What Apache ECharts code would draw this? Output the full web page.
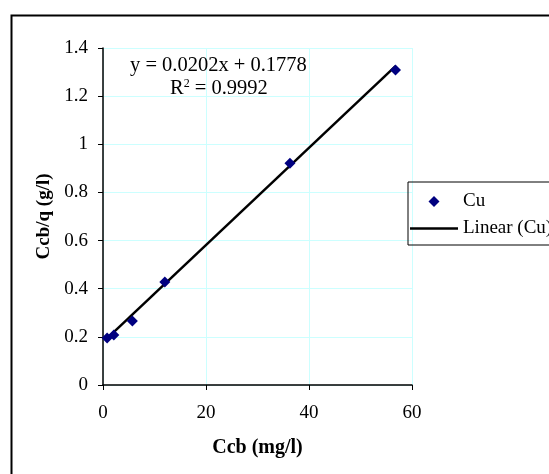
<!DOCTYPE html>
<html>
<head>
<meta charset="utf-8">
<script src="https://cdn.jsdelivr.net/npm/echarts@6/dist/echarts.min.js"></script>
<style>html,body{margin:0;padding:0;background:#fff}#c{width:549px;height:474px}</style>
</head>
<body>
<div id="c"></div>
<script>
const ccb = [0.8, 2.1, 5.7, 12.0, 36.3, 56.8];
const ccbq = [0.195, 0.208, 0.266, 0.428, 0.921, 1.309];
const trendX = [0.8, 56.8];
const trendY = [0.194, 1.325];
const xTicks = [0, 20, 40, 60];
const yTicks = [0, 0.2, 0.4, 0.6, 0.8, 1, 1.2, 1.4];

const font = '"Liberation Serif", "Times New Roman", serif';
const chart = echarts.init(document.getElementById('c'));
chart.setOption({
  animation: false,
  backgroundColor: '#fff',
  textStyle: { fontFamily: font },
  grid: { left: 103, top: 48, width: 309, height: 337, containLabel: false },
  xAxis: {
    type: 'value', min: 0, max: 60, interval: 20,
    name: 'Ccb (mg/l)', nameLocation: 'middle', nameGap: 53,
    nameTextStyle: { fontFamily: font, fontWeight: 'bold', fontSize: 20, color: '#000' },
    axisLine: { onZero: false, lineStyle: { color: '#000', width: 1.5 } },
    axisTick: { show: true, length: 5, lineStyle: { color: '#000' } },
    axisLabel: { fontFamily: font, fontSize: 19, color: '#000', margin: 19 },
    splitLine: { show: true, lineStyle: { color: '#ccffff', width: 1 } }
  },
  yAxis: {
    type: 'value', min: 0, max: 1.4, interval: 0.2,
    name: 'Ccb/q (g/l)', nameLocation: 'middle', nameGap: 48, nameRotate: 90,
    nameTextStyle: { fontFamily: font, fontWeight: 'bold', fontSize: 19, color: '#000' },
    axisLine: { onZero: false, lineStyle: { color: '#000', width: 1.5 } },
    axisTick: { show: true, length: 5, lineStyle: { color: '#000' } },
    axisLabel: { fontFamily: font, fontSize: 19, color: '#000', margin: 15,
      formatter: v => String(Math.round(v * 10) / 10) },
    splitLine: { show: true, lineStyle: { color: '#ccffff', width: 1 } }
  },
  legend: {
    orient: 'vertical', left: 408, top: 182,
    borderColor: '#000', borderWidth: 1, borderRadius: 0,
    padding: [10, 40, 7, 2], itemGap: 8,
    itemWidth: 48, itemHeight: 11, symbolKeepAspect: true,
    textStyle: { fontFamily: font, fontSize: 19, color: '#000' },
    data: [
      { name: 'Cu', icon: 'path://M5,0 L10,5 L5,10 L0,5 Z' },
      { name: 'Linear (Cu)', icon: 'path://M0,0 L48,0 L48,2.5 L0,2.5 Z' }
    ]
  },
  graphic: [
    { type: 'rect', left: 9, top: 13, silent: true, z: -1,
      shape: { width: 600, height: 500 },
      style: { fill: 'none', stroke: '#000', lineWidth: 2 } },
    { type: 'text', left: 130, top: 55, z: 10,
      style: { text: 'y = 0.0202x + 0.1778', font: '20.5px ' + font, fill: '#000' } },
    { type: 'text', left: 170, top: 78, z: 10,
      style: { text: '{a|R}{s|2}{a| = 0.9992}', font: '20.5px ' + font, fill: '#000',
        rich: { a: { fontSize: 20.5, fontFamily: font, color: '#000', verticalAlign: 'bottom' },
                s: { fontSize: 12, fontFamily: font, color: '#000', verticalAlign: 'top', padding: [0,0,9,0] } } } }
  ],
  series: [
    {
      name: 'Linear (Cu)', type: 'line', z: 2,
      data: trendX.map((x, i) => [x, trendY[i]]),
      showSymbol: false, symbol: 'none',
      lineStyle: { color: '#000', width: 2.5 },
      itemStyle: { color: '#000' }
    },
    {
      name: 'Cu', type: 'scatter', z: 3,
      data: ccb.map((x, i) => [x, ccbq[i]]),
      symbol: 'diamond', symbolSize: 11,
      itemStyle: { color: '#000080', opacity: 1 }
    }
  ]
});
</script>
</body>
</html>
